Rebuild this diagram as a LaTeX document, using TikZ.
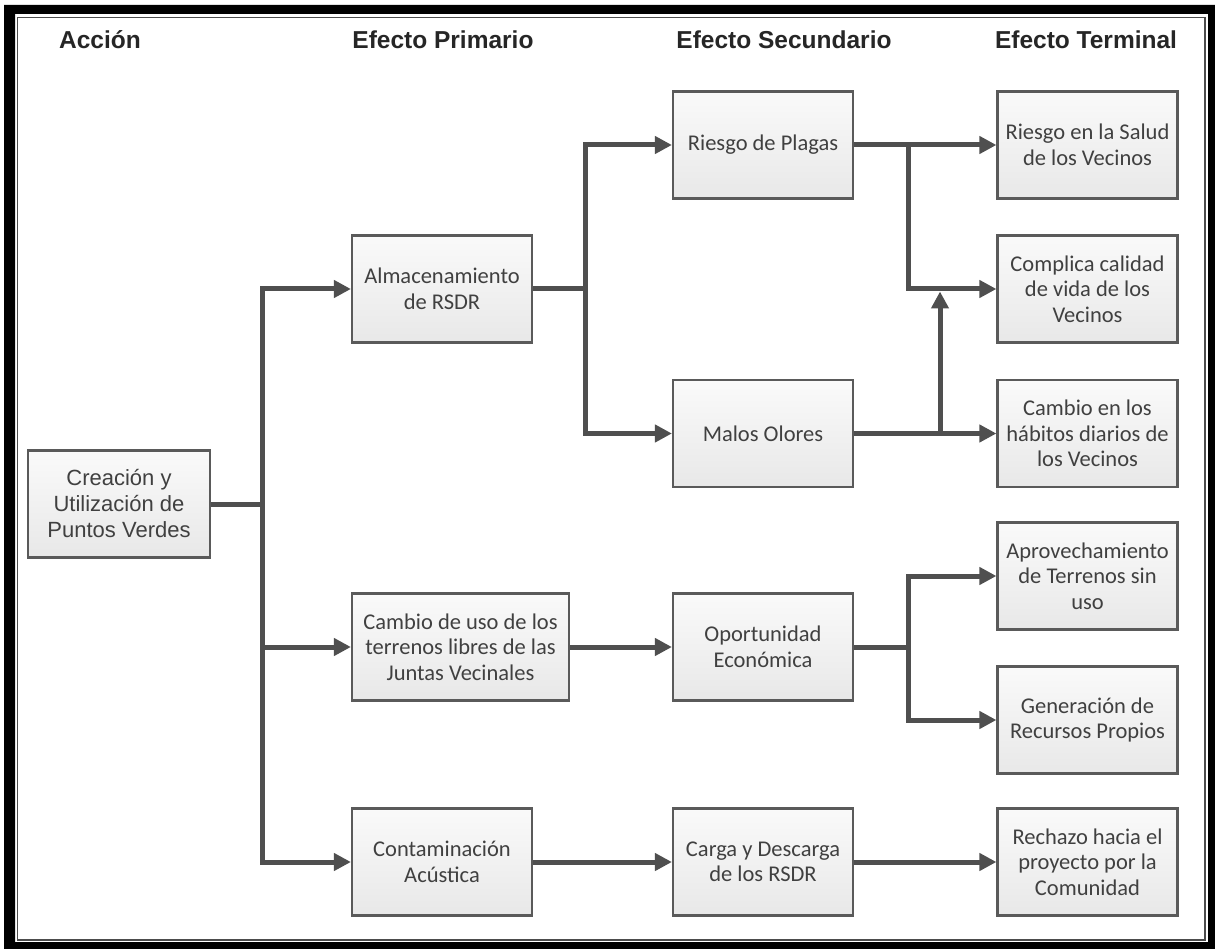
\documentclass[tikz,border=0pt]{standalone}
\usepackage{fontspec}
\setmainfont{Carlito}
\newfontfamily\arialfont{Liberation Sans}
\usetikzlibrary{arrows.meta,calc}

\definecolor{linegray}{HTML}{4F4F4F}
\definecolor{boxedge}{HTML}{5A5A5A}
\definecolor{txt}{HTML}{404040}

\tikzset{
  box/.style={draw=boxedge, line width=2.2pt,
    top color=white!98!black, bottom color=white!91!black,
    minimum width=180pt, minimum height=107pt, inner sep=0pt,
    align=center, text=txt, font=\fontsize{22.5}{25.5}\selectfont},
  link/.style={draw=linegray, line width=5pt},
  arr/.style={link, -{Triangle[length=17pt,width=17pt]}},
  head/.style={font=\arialfont\bfseries\fontsize{24.5}{28}\selectfont,
    text=black!85, anchor=base},
}

\begin{document}
\begin{tikzpicture}[x=1pt,y=-1pt]
\useasboundingbox (0,0) rectangle (1215,949);
\fill[white] (0,0) rectangle (1215,949);

% page frame: heavy black band with a thin inner rule
\fill[black, even odd rule] (4,5) rectangle (1215,949) (15,14) rectangle (1208,942);
\draw[black!70, line width=1.5pt] (17.5,17.5) rectangle (1205,940);

% column headings
\node[head] (h1) at (100,49) {Acción};
\node[head] (h2) at (443,49) {Efecto Primario};
\node[head] (h3) at (784,49) {Efecto Secundario};
\node[head] (h4) at (1086,49) {Efecto Terminal};

% action
\node[box, minimum width=182pt, font=\arialfont\fontsize{22}{26}\selectfont]
  (cre) at (119,504) {Creación y\\Utilización de\\Puntos Verdes};

% primary effects
\node[box] (alm) at (442,289) {Almacenamiento\\de RSDR};
\node[box, minimum width=217pt] (cu) at (460.5,647) {Cambio de uso de los\\terrenos libres de las\\Juntas Vecinales};
\node[box] (con) at (442,862) {Contaminación\\Acústica};

% secondary effects
\node[box] (rp) at (763,145) {Riesgo de Plagas};
\node[box] (mo) at (763,433.5) {Malos Olores};
\node[box] (op) at (763,647) {Oportunidad\\Económica};
\node[box] (car) at (763,862) {Carga y Descarga\\de los RSDR};

% terminal effects
\node[box] (sal) at (1087.5,145) {Riesgo en la Salud\\de los Vecinos};
\node[box] (com) at (1087.5,289) {Complica calidad\\de vida de los\\Vecinos};
\node[box] (hab) at (1087.5,433.5) {Cambio en los\\hábitos diarios de\\los Vecinos};
\node[box] (apr) at (1087.5,576) {Aprovechamiento\\de Terrenos sin\\uso};
\node[box] (gen) at (1087.5,720) {Generación de\\Recursos Propios};
\node[box] (rec) at (1087.5,862) {Rechazo hacia el\\proyecto por la\\Comunidad};

% junction columns
\coordinate (j1) at (262,0);
\coordinate (j2) at (585,0);
\coordinate (j3) at (908,0);
\coordinate (j4) at (940,0);

% action -> primary effects
\draw[link] (cre.east) -- (j1 |- cre.east);
\draw[arr] (j1 |- con.west) -- (j1 |- alm.west) -- (alm.west);
\draw[arr] (j1 |- alm.west) -- (j1 |- con.west) -- (con.west);
\draw[arr] (j1 |- cu.west) -- (cu.west);

% storage -> pests, odours
\draw[link] (alm.east) -- (j2 |- alm.east);
\draw[arr] (j2 |- mo.west) -- (j2 |- rp.west) -- (rp.west);
\draw[arr] (j2 |- rp.west) -- (j2 |- mo.west) -- (mo.west);

% pests -> health, quality of life
\draw[arr] (rp.east) -- (sal.west);
\draw[arr] (j3 |- rp.east) -- (j3 |- com.west) -- (com.west);

% odours -> habits, quality of life
\draw[arr] (mo.east) -- (hab.west);
\draw[arr] (j4 |- mo.east) -- ($(j4 |- com.west)+(0,2.5)$);

% land use -> opportunity -> terminal effects
\draw[arr] (cu.east) -- (op.west);
\draw[link] (op.east) -- (j3 |- op.east);
\draw[arr] (j3 |- gen.west) -- (j3 |- apr.west) -- (apr.west);
\draw[arr] (j3 |- apr.west) -- (j3 |- gen.west) -- (gen.west);

% noise -> loading -> rejection
\draw[arr] (con.east) -- (car.west);
\draw[arr] (car.east) -- (rec.west);
\end{tikzpicture}
\end{document}
